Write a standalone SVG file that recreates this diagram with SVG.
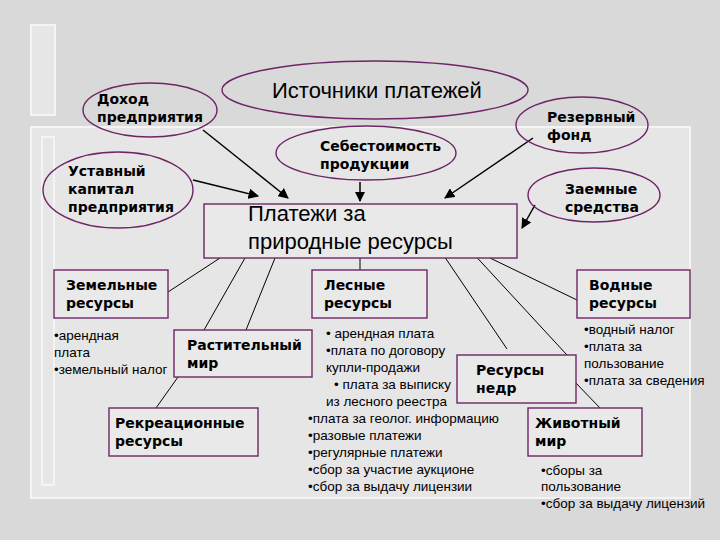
<svg xmlns="http://www.w3.org/2000/svg" width="720" height="540" viewBox="0 0 720 540">
<defs>
<style>
.bg{fill:#d9d9d9}
.panel{fill:#e6e6e6;stroke:#f4f4f4;stroke-width:2}
.n{fill:none;stroke:#6e2466;stroke-width:1.4}
.b{fill:#e9e9e9;stroke:#6e2466;stroke-width:1.4}
.bt{font-family:"DejaVu Sans",sans-serif;font-weight:bold;font-size:14px;fill:#000}
.rt{font-family:"Liberation Sans",sans-serif;font-size:13.5px;fill:#000}
.big{font-family:"Liberation Sans",sans-serif;font-size:22px;fill:#000}
.ln{stroke:#000;stroke-width:1;fill:none}
.ar{stroke:#000;stroke-width:1.5;fill:none;marker-end:url(#ah)}
</style>
<marker id="ah" viewBox="0 0 10 10" refX="9" refY="5" markerWidth="7" markerHeight="7" orient="auto"><path d="M0,0 L10,5 L0,10 z" fill="#000"/></marker>
</defs>
<rect class="bg" x="0" y="0" width="720" height="540"/>
<rect class="panel" x="31" y="25" width="24" height="90"/>
<rect class="panel" x="31" y="127" width="659" height="371"/>
<rect class="panel" x="42" y="137" width="12" height="348"/>

<g id="connectors">
<line class="ar" x1="203" y1="130" x2="288" y2="198"/>
<line class="ar" x1="193" y1="180" x2="258" y2="196"/>
<line class="ar" x1="360" y1="182" x2="360" y2="201"/>
<line class="ar" x1="533" y1="138" x2="445" y2="198"/>
<line class="ar" x1="535" y1="205" x2="522" y2="228"/>
<line class="ln" x1="220" y1="258" x2="168" y2="292"/>
<line class="ln" x1="245" y1="258" x2="204" y2="330"/>
<line class="ln" x1="275" y1="258" x2="246" y2="330"/>
<line class="ln" x1="178" y1="377" x2="156" y2="408"/>
<line class="ln" x1="360" y1="258" x2="360" y2="270"/>
<line class="ln" x1="440" y1="250" x2="507" y2="349"/>
<line class="ln" x1="470" y1="250" x2="567" y2="355"/>
<line class="ln" x1="574" y1="381" x2="600" y2="408"/>
<line class="ln" x1="490" y1="258" x2="577" y2="300"/>
</g>

<g id="n-title"><ellipse class="n" cx="375" cy="90" rx="153" ry="29"/><text class="big" x="272" y="98">Источники платежей</text></g>
<g id="n-dohod"><ellipse class="n" cx="150" cy="110" rx="67" ry="27"/><text class="bt" x="97" y="104">Доход</text><text class="bt" x="97" y="122">предприятия</text></g>
<g id="n-ustav"><ellipse class="n" cx="118" cy="190" rx="75" ry="38"/><text class="bt" x="68" y="176">Уставный</text><text class="bt" x="68" y="194">капитал</text><text class="bt" x="68" y="212">предприятия</text></g>
<g id="n-sebest"><ellipse class="n" cx="366" cy="153" rx="90" ry="27"/><text class="bt" x="320" y="151">Себестоимость</text><text class="bt" x="320" y="169">продукции</text></g>
<g id="n-rezerv"><ellipse class="n" cx="582" cy="125" rx="66" ry="28"/><text class="bt" x="547" y="122">Резервный</text><text class="bt" x="547" y="140">фонд</text></g>
<g id="n-zaem"><ellipse class="n" cx="594" cy="195" rx="66" ry="27"/><text class="bt" x="565" y="194">Заемные</text><text class="bt" x="565" y="212">средства</text></g>
<g id="n-main"><rect class="b" x="204" y="204" width="313" height="54"/><text class="big" x="248" y="221">Платежи за</text><text class="big" x="248" y="249">природные ресурсы</text></g>

<g id="n-zem"><rect class="b" x="54" y="270" width="114" height="48"/><text class="bt" x="66" y="290">Земельные</text><text class="bt" x="66" y="308">ресурсы</text></g>
<g id="n-les"><rect class="b" x="312" y="270" width="115" height="48"/><text class="bt" x="324" y="290">Лесные</text><text class="bt" x="324" y="308">ресурсы</text></g>
<g id="n-vod"><rect class="b" x="577" y="270" width="113" height="48"/><text class="bt" x="589" y="290">Водные</text><text class="bt" x="589" y="308">ресурсы</text></g>
<g id="n-rast"><rect class="b" x="174" y="330" width="138" height="47"/><text class="bt" x="187" y="350">Растительный</text><text class="bt" x="187" y="368">мир</text></g>
<g id="n-rekr"><rect class="b" x="109" y="408" width="149" height="48"/><text class="bt" x="115" y="428">Рекреационные</text><text class="bt" x="115" y="446">ресурсы</text></g>
<g id="n-nedr"><rect class="b" x="457" y="355" width="119" height="48"/><text class="bt" x="476" y="375">Ресурсы</text><text class="bt" x="476" y="393">недр</text></g>
<g id="n-zhiv"><rect class="b" x="528" y="408" width="114" height="48"/><text class="bt" x="535" y="428">Животный</text><text class="bt" x="535" y="446">мир</text></g>

<g id="lists">
<text class="rt" x="54" y="340">•арендная</text>
<text class="rt" x="54" y="357">плата</text>
<text class="rt" x="54" y="374">•земельный налог</text>
<text class="rt" x="326" y="338">•  арендная плата</text>
<text class="rt" x="326" y="355">•плата по договору</text>
<text class="rt" x="326" y="372">купли-продажи</text>
<text class="rt" x="334" y="389">• плата за выписку</text>
<text class="rt" x="326" y="406">из лесного реестра</text>
<text class="rt" x="308" y="423">•плата за геолог. информацию</text>
<text class="rt" x="308" y="440">•разовые платежи</text>
<text class="rt" x="308" y="457">•регулярные платежи</text>
<text class="rt" x="308" y="474">•сбор за участие аукционе</text>
<text class="rt" x="308" y="491">•сбор за выдачу лицензии</text>
<text class="rt" x="584" y="334">•водный налог</text>
<text class="rt" x="584" y="351">•плата за</text>
<text class="rt" x="584" y="368">пользование</text>
<text class="rt" x="584" y="385">•плата за сведения</text>
<text class="rt" x="541" y="475">•сборы за</text>
<text class="rt" x="541" y="491">пользование</text>
<text class="rt" x="541" y="508">•сбор за выдачу лицензий</text>
</g>
</svg>
